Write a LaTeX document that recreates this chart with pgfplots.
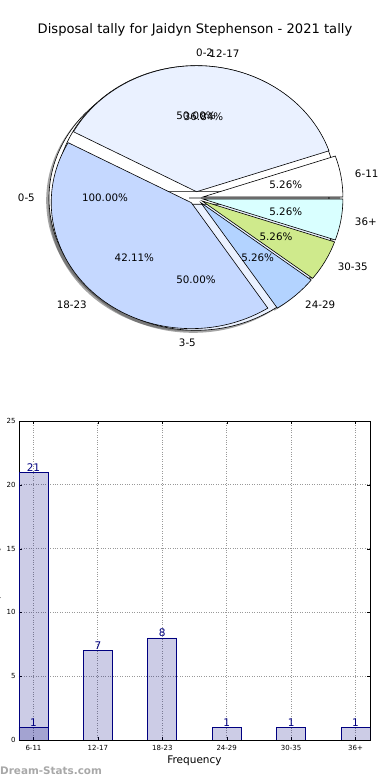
\documentclass[border=0pt]{standalone}
\usepackage{fontspec}
\setmainfont{DejaVu Sans}
\usepackage{pgfplots}
\pgfplotsset{compat=1.18}
\definecolor{c12}{HTML}{EAF1FF}
\definecolor{c18}{HTML}{C5D8FF}
\definecolor{c24}{HTML}{B3D3FF}
\definecolor{c30}{HTML}{CFEA8C}
\definecolor{c36}{HTML}{D9FFFF}
\definecolor{barnavy}{HTML}{000080}
\definecolor{wm}{HTML}{A8A8A8}
\tikzset{
  pielab/.style={font=\fontsize{10.3}{12}\selectfont, inner sep=0pt},
  pieshadow/.style={fill=black!70, fill opacity=0.5, draw=none},
  piewedge/.style={draw=black, line width=0.6pt},
}
% #1 total, #2 shift x, #3 shift y, #4 mode (0 shadow,1 wedge), #5 list macro
\newcommand\drawpie[5]{%
  \foreach \v/\s/\c/\lab/\pct/\anc in #5{%
    \pgfmathsetmacro\angA{\s*360/#1}%
    \pgfmathsetmacro\angB{(\s+\v)*360/#1}%
    \pgfmathsetmacro\angM{(\angA+\angB)/2}%
    \pgfmathsetmacro\ox{0.05*cos(\angM)+#2}%
    \pgfmathsetmacro\oy{0.05*sin(\angM)+#3}%
    \pgfmathsetmacro\px{\ox+cos(\angA)}%
    \pgfmathsetmacro\py{\oy+sin(\angA)}%
    \ifnum#4=0
      \edef\temp{\noexpand\fill[pieshadow] (axis cs:\ox,\oy) -- (axis cs:\px,\py) arc[start angle=\angA, end angle=\angB, x radius=140pt, y radius=126pt] -- cycle;}%
    \else
      \edef\temp{\noexpand\filldraw[piewedge, fill=\c] (axis cs:\ox,\oy) -- (axis cs:\px,\py) arc[start angle=\angA, end angle=\angB, x radius=140pt, y radius=126pt] -- cycle;}%
    \fi
    \temp
  }%
}
\newcommand\labelpie[2]{%
  \foreach \v/\s/\c/\lab/\pct/\anc in #2{%
    \pgfmathsetmacro\angM{(\s+\v/2)*360/#1}%
    \pgfmathsetmacro\ox{0.05*cos(\angM)}%
    \pgfmathsetmacro\oy{0.05*sin(\angM)}%
    \pgfmathsetmacro\lx{\ox+1.1*cos(\angM)}%
    \pgfmathsetmacro\ly{\oy+1.1*sin(\angM)}%
    \pgfmathsetmacro\tx{\ox+0.6*cos(\angM)}%
    \pgfmathsetmacro\ty{\oy+0.6*sin(\angM)}%
    \edef\temp{\noexpand\node[pielab, anchor=\anc] at (axis cs:\lx,\ly) {\lab};
      \noexpand\node[pielab, anchor=center] at (axis cs:\tx,\ty) {\pct};}%
    \temp
  }%
}
\newcommand\pieA{1/0/white/0-5/100.00\%/east}
\newcommand\pieB{1/0/white/0-2/50.00\%/west, 1/1/c12/3-5/50.00\%/east}
\newcommand\pieC{1/0/white/6-11/5.26\%/west, 7/1/c12/12-17/36.84\%/west, 8/8/c18/18-23/42.11\%/east, 1/16/c24/24-29/5.26\%/west, 1/17/c30/30-35/5.26\%/west, 1/18/c36/36+/5.26\%/west}
\begin{document}
\begin{tikzpicture}
\useasboundingbox (0,0) rectangle (390pt,780pt);
\node[font=\fontsize{13.1}{15}\selectfont] at (195pt,750pt) {Disposal tally for Jaidyn Stephenson - 2021 tally};
% Pie
\begin{axis}[at={(196pt,582pt)}, anchor=center, x=140pt, y=126pt,
  xmin=-1.5, xmax=1.5, ymin=-1.5, ymax=1.5, hide axis, clip=false]
  \drawpie{1}{-0.02}{-0.02}{0}{\pieA}
  \drawpie{2}{-0.02}{-0.02}{0}{\pieB}
  \drawpie{19}{-0.02}{-0.02}{0}{\pieC}
  \drawpie{1}{0}{0}{1}{\pieA}
  \drawpie{2}{0}{0}{1}{\pieB}
  \drawpie{19}{0}{0}{1}{\pieC}
  \labelpie{1}{\pieA}
  \labelpie{2}{\pieB}
  \labelpie{19}{\pieC}
\end{axis}
% Bar chart
\begin{axis}[at={(19pt,40pt)}, anchor=south west, width=351pt, height=319pt, scale only axis,
  xmin=-0.225, xmax=5.225, ymin=0, ymax=25,
  xtick={0,1,2,3,4,5}, xticklabels={6-11,12-17,18-23,24-29,30-35,36+},
  ytick={0,5,10,15,20,25},
  /pgf/number format/assume math mode=true,
  tick label style={font=\fontsize{7}{8}\selectfont},
  xticklabel style={yshift=-2pt},
  grid=major, grid style={dotted, black!40, line width=0.8pt},
  tick align=inside, major tick length=3pt, tick style={black},
  axis line style={black, line width=0.8pt},
  xlabel={Frequency}, xlabel style={font=\fontsize{10.5}{12}\selectfont, yshift=2pt},
  ylabel={Disposal tally}, ylabel style={font=\fontsize{10.5}{12}\selectfont, at={(axis description cs:0,0.5)}, anchor=south, xshift=0pt, yshift=15pt},
  nodes near coords, every node near coord/.append style={font=\fontsize{10.5}{12}\selectfont, text=barnavy, anchor=south, inner sep=0pt, yshift=0.5pt},
]
\addplot[ybar, bar width=0.45, bar shift=0pt, draw=barnavy, fill=barnavy, fill opacity=0.2, text opacity=1, line width=0.7pt] coordinates {(0,21)};
\addplot[ybar, bar width=0.45, bar shift=0pt, draw=barnavy, fill=barnavy, fill opacity=0.2, text opacity=1, line width=0.7pt] coordinates {(0,1) (1,7) (2,8) (3,1) (4,1) (5,1)};
\end{axis}
\node[anchor=west, font=\bfseries\fontsize{10.4}{12}\selectfont, text=wm, inner sep=0pt] at (0pt,9pt) {Dream-Stats.com};
\end{tikzpicture}
\end{document}
